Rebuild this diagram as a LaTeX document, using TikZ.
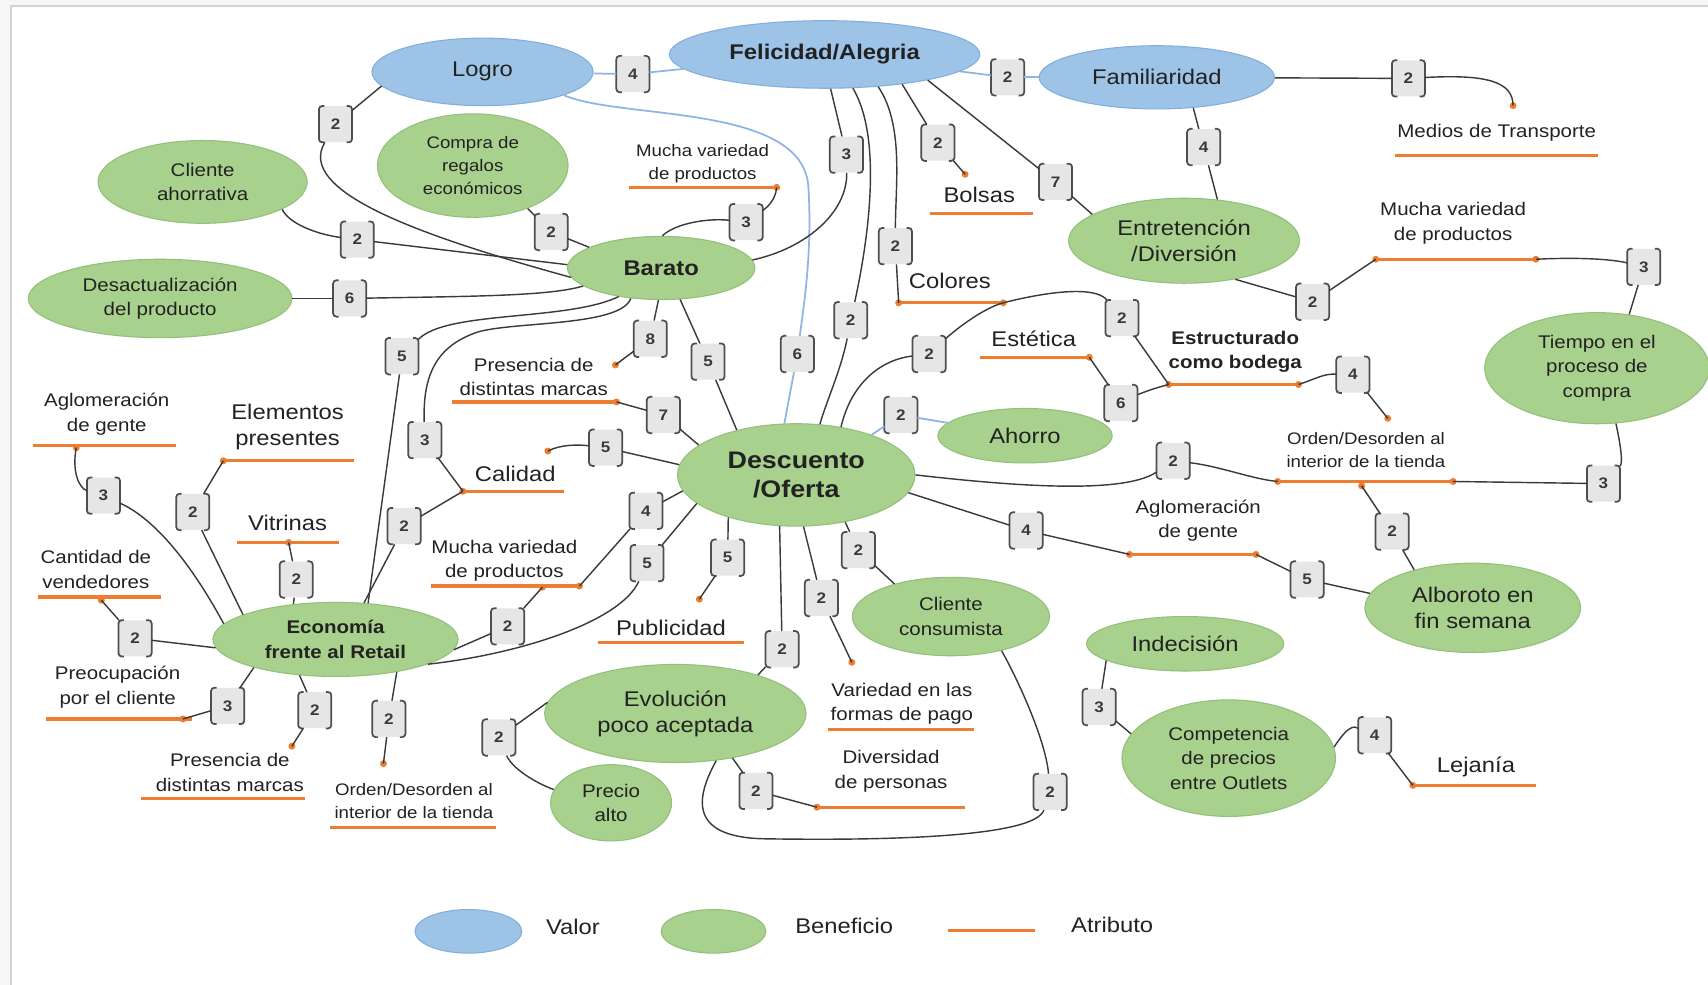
\documentclass[tikz,border=0pt]{standalone}
\usepackage{fontspec}
\setmainfont{Liberation Sans}[FakeStretch=1.12]
\usetikzlibrary{shapes.geometric}

\definecolor{bluefill}{HTML}{9DC3E6}
\definecolor{bluedraw}{HTML}{84AEDD}
\definecolor{greenfill}{HTML}{A9D18E}
\definecolor{greendraw}{HTML}{93C07A}
\definecolor{orangel}{HTML}{ED7D31}
\definecolor{edgec}{HTML}{3A3A3A}
\definecolor{bluel}{HTML}{8DB4E2}
\definecolor{badgec}{HTML}{E6E6E6}
\definecolor{textc}{HTML}{222222}

\newcommand\szBig{\fontsize{19.5}{24}\selectfont}
\newcommand\szMed{\fontsize{16.8}{22.5}\selectfont}
\newcommand\szSml{\fontsize{15.3}{21}\selectfont}
\newcommand\szTop{\fontsize{22}{27}\selectfont}

\tikzset{
  valor/.style={ellipse, draw=bluedraw, fill=bluefill, line width=1, inner sep=0pt,
    align=center, text=textc, font=\szBig},
  benef/.style={ellipse, draw=greendraw, fill=greenfill, line width=1, inner sep=0pt,
    align=center, text=textc, font=\szMed},
  atext/.style={inner sep=0pt, align=center, text=textc, font=\szMed},
  attrline/.style={draw=orangel, line width=3},
  attrdot/.style={fill=orangel},
  ed/.style={draw=edgec, line width=1.3},
  bl/.style={draw=bluel, line width=1.6},
  badgebox/.style={rectangle, rounded corners=4, fill=badgec, minimum width=30,
    minimum height=33, inner sep=0pt, text=edgec, font=\bfseries\fontsize{14}{14}\selectfont},
  bracket/.style={draw=edgec!90, line width=1.6, rounded corners=3},
}

% numbered weight box with bracket sides
\newcommand\badge[3]{%
  \node[badgebox] (#1) at (#2) {#3};
  \draw[bracket] ([xshift=5pt]#1.north west) -- (#1.north west) -- (#1.south west) -- ([xshift=5pt]#1.south west);
  \draw[bracket] ([xshift=-5pt]#1.north east) -- (#1.north east) -- (#1.south east) -- ([xshift=-5pt]#1.south east);
}

\begin{document}
\begin{tikzpicture}[x=1pt, y=-1pt]
\useasboundingbox (0,0) rectangle (1568,904);
\fill[white] (0,0) rectangle (1568,904);
% page frame
\fill[gray!7] (0,0) rectangle (1568,5);
\fill[gray!7] (0,0) rectangle (10,904);
\draw[gray!35, line width=1.5] (10,904) -- (10,5.5) -- (1568,5.5);

% ---------- values ----------
\node[valor, minimum width=203, minimum height=62] (logro) at (443,66) {Logro};
\node[valor, minimum width=285, minimum height=62, font=\szBig\bfseries] (feli) at (757,50) {Felicidad/Alegria};
\node[valor, minimum width=216, minimum height=58] (fam) at (1062,71) {Familiaridad};

% ---------- benefits ----------
\node[benef, minimum width=192, minimum height=76] (clah) at (186,167) {Cliente\\ahorrativa};
\node[benef, minimum width=175, minimum height=95, font=\szSml] (compra) at (434,152) {Compra de\\regalos\\económicos};
\node[benef, minimum width=242, minimum height=72] (desact) at (147,274) {Desactualización\\del producto};
\node[benef, minimum width=172, minimum height=58, font=\szBig\bfseries] (barato) at (607,246) {Barato};
\node[benef, minimum width=212, minimum height=78, font=\szBig] (entre) at (1087,221) {Entretención\\/Diversión};
\node[benef, minimum width=206, minimum height=102] (tiempo) at (1466,338) {Tiempo en el\\proceso de\\compra};
\node[benef, minimum width=160, minimum height=50, font=\szBig] (ahorro) at (941,400) {Ahorro};
\node[benef, minimum width=218, minimum height=94, font=\szTop\bfseries] (desc) at (731,436) {Descuento\\/Oferta};
\node[benef, minimum width=225, minimum height=68, font=\szMed\bfseries] (econ) at (308,587) {Economía\\frente al Retail};
\node[benef, minimum width=181, minimum height=72] (clcons) at (873,566) {Cliente\\consumista};
\node[benef, minimum width=198, minimum height=82, font=\szBig] (alboroto) at (1352,558) {Alboroto en\\fin semana};
\node[benef, minimum width=181, minimum height=50, font=\szBig] (indec) at (1088,591) {Indecisión};
\node[benef, minimum width=240, minimum height=90, font=\szBig] (evol) at (620,655) {Evolución\\poco aceptada};
\node[benef, minimum width=111, minimum height=70] (precio) at (561,737) {Precio\\alto};
\node[benef, minimum width=196, minimum height=107] (compet) at (1128,696) {Competencia\\de precios\\entre Outlets};

% ---------- attributes ----------
\node[atext, font=\szSml] (t1) at (645,150) {Mucha variedad\\de productos};
\coordinate (a1l) at (577,172); \coordinate (a1r) at (713,172);
\node[atext] (t2) at (1374,122) {Medios de Transporte};
\coordinate (a2l) at (1281,143); \coordinate (a2r) at (1467,143); \coordinate (d2) at (1389,97);
\node[atext, font=\szBig] (t3) at (899,179) {Bolsas};
\coordinate (a3l) at (854,196); \coordinate (a3r) at (948,196); \coordinate (d3) at (886,160);
\node[atext, font=\szBig] (t4) at (872,258) {Colores};
\coordinate (a4l) at (825,278); \coordinate (a4r) at (921,278);
\node[atext] (t5) at (1334,205) {Mucha variedad\\de productos};
\coordinate (a5l) at (1263,238); \coordinate (a5r) at (1410,238);
\node[atext, font=\szBig] (t6) at (949,311) {Estética};
\coordinate (a6l) at (900,328); \coordinate (a6r) at (1000,328);
\node[atext, font=\szMed\bfseries] (t7) at (1134,323) {Estructurado\\como bodega};
\coordinate (a7l) at (1073,353); \coordinate (a7r) at (1192,353);
\node[atext] (t8) at (490,346) {Presencia de\\distintas marcas};
\coordinate (a8l) at (415,369); \coordinate (a8r) at (566,369); \coordinate (d8) at (565,335);
\node[atext] (t9) at (98,380) {Aglomeración\\de gente};
\coordinate (a9l) at (30,409); \coordinate (a9r) at (162,409); \coordinate (d9) at (70,411);
\node[atext, font=\szBig] (t10) at (264,392) {Elementos\\presentes};
\coordinate (a10l) at (205,423); \coordinate (a10r) at (325,423);
\node[atext, font=\szBig] (t11) at (473,435) {Calidad};
\coordinate (a11l) at (425,451); \coordinate (a11r) at (518,451); \coordinate (d11) at (503,414);
\node[atext, font=\szSml] (t12) at (1254,413) {Orden/Desorden al\\interior de la tienda};
\coordinate (a12l) at (1173,442); \coordinate (a12r) at (1334,442);
\coordinate (d12m) at (1250,446); \coordinate (d12t) at (1274,384);
\node[atext, font=\szBig] (t13) at (264,480) {Vitrinas};
\coordinate (a13l) at (218,498); \coordinate (a13r) at (311,498); \coordinate (d13) at (265,498);
\node[atext] (t14) at (88,523) {Cantidad de\\vendedores};
\coordinate (a14l) at (35,548); \coordinate (a14r) at (148,548); \coordinate (d14) at (93,551);
\node[atext] (t15) at (463,515) {Mucha variedad\\de productos};
\coordinate (a15l) at (396,538); \coordinate (a15r) at (532,538); \coordinate (d15) at (498,539);
\node[atext] (t16) at (1100,478) {Aglomeración\\de gente};
\coordinate (a16l) at (1037,509); \coordinate (a16r) at (1153,509);
\node[atext, font=\szBig] (t17) at (616,576) {Publicidad};
\coordinate (a17l) at (549,590); \coordinate (a17r) at (683,590); \coordinate (d17) at (642,550);
\node[atext] (t18) at (108,631) {Preocupación\\por el cliente};
\coordinate (a18l) at (42,660); \coordinate (a18r) at (176,660); \coordinate (d18) at (168,660);
\node[atext] (t19) at (828,646) {Variedad en las\\formas de pago};
\coordinate (a19l) at (760,670); \coordinate (a19r) at (894,670); \coordinate (d19) at (782,608);
\node[atext] (t20) at (211,709) {Presencia de\\distintas marcas};
\coordinate (a20l) at (129,733); \coordinate (a20r) at (280,733); \coordinate (d20) at (268,685);
\node[atext, font=\szSml] (t21) at (380,735) {Orden/Desorden al\\interior de la tienda};
\coordinate (a21l) at (303,760); \coordinate (a21r) at (455,760); \coordinate (d21) at (352,701);
\node[atext] (t22) at (818,708) {Diversidad\\de personas};
\coordinate (a22l) at (750,741); \coordinate (a22r) at (886,741); \coordinate (d22) at (750,741);
\node[atext, font=\szBig] (t23) at (1355,704) {Lejanía};
\coordinate (a23l) at (1297,721); \coordinate (a23r) at (1410,721);

\foreach \i in {1,...,23} {\draw[attrline] (a\i l) -- (a\i r);}
\foreach \p in {a1r,d2,d3,a4l,a4r,a5l,a5r,a6r,a7l,a7r,d8,a8r,d9,a10l,a11l,d11,a12l,a12r,d12m,d12t,
  d13,d14,d15,a15r,a16l,a16r,d17,d18,d19,d20,d21,d22,a23l}
  {\fill[attrdot] (\p) circle[radius=3.2pt];}

% ---------- weight boxes ----------
\badge{b1}{581,68}{4}
\badge{b2}{925,71}{2}
\badge{b3}{1293,72}{2}
\badge{b4}{308,114}{2}
\badge{b5}{777,142}{3}
\badge{b6}{861,131}{2}
\badge{b7}{969,167}{7}
\badge{b8}{822,226}{2}
\badge{b9}{781,294}{2}
\badge{b10}{1105,135}{4}
\badge{b11}{1205,277}{2}
\badge{b12}{1509,245}{3}
\badge{b13}{1472,444}{3}
\badge{b14}{1077,423}{2}
\badge{b15}{1278,488}{2}
\badge{b16}{942,487}{4}
\badge{b17}{1200,532}{5}
\badge{b18}{1030,292}{2}
\badge{b19}{853,325}{2}
\badge{b20}{1029,370}{6}
\badge{b21}{1242,344}{4}
\badge{b22}{827,381}{2}
\badge{b23}{328,220}{2}
\badge{b24}{506,213}{2}
\badge{b25}{321,274}{6}
\badge{b26}{685,204}{3}
\badge{b27}{369,327}{5}
\badge{b28}{390,404}{3}
\badge{b29}{597,311}{8}
\badge{b30}{650,332}{5}
\badge{b31}{609,381}{7}
\badge{b32}{556,411}{5}
\badge{b33}{732,325}{6}
\badge{b34}{95,455}{3}
\badge{b35}{177,470}{2}
\badge{b36}{272,532}{2}
\badge{b37}{371,483}{2}
\badge{b38}{124,586}{2}
\badge{b39}{209,648}{3}
\badge{b40}{289,652}{2}
\badge{b41}{357,660}{2}
\badge{b42}{466,575}{2}
\badge{b43}{593,469}{4}
\badge{b44}{594,517}{5}
\badge{b45}{668,512}{5}
\badge{b46}{718,596}{2}
\badge{b47}{754,549}{2}
\badge{b48}{788,505}{2}
\badge{b49}{458,677}{2}
\badge{b50}{694,726}{2}
\badge{b51}{964,727}{2}
\badge{b52}{1009,649}{3}
\badge{b53}{1262,675}{4}

% ---------- links between values ----------
\draw[bl] (logro) -- (b1);
\draw[bl] (b1) -- (feli);
\draw[bl] (feli) -- (b2);
\draw[bl] (b2) -- (fam);
\draw[bl] (logro.-16) .. controls (570,110) and (735,95) .. (742,170) .. controls (746,230) and (738,280) .. (b33);
\draw[bl] (b33) -- (desc.103);
\draw[bl] (desc.28) -- (b22);
\draw[bl] (b22) -- (ahorro);

% ---------- links from the upper values ----------
\draw[ed] (fam) -- (b3);
\draw[ed] (b3) .. controls (1365,68) and (1389,75) .. (d2);
\draw[ed] (logro.188) -- (b4);
\draw[ed] (b4) .. controls (272,175) and (380,215) .. (barato.186);
\draw[ed] (feli.-80) -- (b5);
\draw[ed] (b5) .. controls (778,195) and (740,228) .. (barato.5);
\draw[ed] (feli.-21) -- (b6);
\draw[ed] (b6) -- (d3);
\draw[ed] (feli.-14) -- (b7);
\draw[ed] (b7) -- (entre.164);
\draw[ed] (feli.-31) .. controls (830,115) and (822,170) .. (b8);
\draw[ed] (b8) -- (a4l);
\draw[ed] (feli.-50) .. controls (812,130) and (795,230) .. (b9);
\draw[ed] (b9) .. controls (772,340) and (758,370) .. (desc.65);
\draw[ed] (fam.-40) -- (b10);
\draw[ed] (b10) -- (entre.51);

% ---------- right side ----------
\draw[ed] (entre.-37) -- (b11);
\draw[ed] (b11) -- (a5l);
\draw[ed] (a5r) .. controls (1450,236) and (1480,238) .. (b12);
\draw[ed] (b12) -- (tiempo.59);
\draw[ed] (tiempo.-71) .. controls (1488,410) and (1490,425) .. (b13);
\draw[ed] (b13) -- (a12r);
\draw[ed] (desc.east) .. controls (920,445) and (1030,455) .. (b14);
\draw[ed] (b14) .. controls (1120,428) and (1150,440) .. (a12l);
\draw[ed] (d12m) -- (b15);
\draw[ed] (b15) -- (alboroto.147);
\draw[ed] (desc.-9) -- (b16);
\draw[ed] (b16) -- (a16l);
\draw[ed] (a16r) -- (b17);
\draw[ed] (b17) -- (alboroto.172);
\draw[ed] (a4r) .. controls (960,268) and (1005,262) .. (b18);
\draw[ed] (b18) -- (a7l);
\draw[ed] (desc.47) .. controls (782,350) and (810,330) .. (b19);
\draw[ed] (b19) .. controls (880,300) and (905,282) .. (a4r);
\draw[ed] (a6r) -- (b20);
\draw[ed] (b20) .. controls (1045,362) and (1060,356) .. (a7l);
\draw[ed] (a7r) .. controls (1210,347) and (1215,343) .. (b21);
\draw[ed] (b21) -- (d12t);

% ---------- around Barato ----------
\draw[ed] (clah.-19) .. controls (265,205) and (290,215) .. (b23);
\draw[ed] (b23) -- (barato.178);
\draw[ed] (compra.-38) -- (b24);
\draw[ed] (b24) -- (barato.164);
\draw[ed] (desact) -- (b25);
\draw[ed] (b25) .. controls (430,272) and (505,272) .. (barato.193);
\draw[ed] (barato.88) .. controls (620,205) and (650,200) .. (b26);
\draw[ed] (b26) .. controls (702,192) and (712,185) .. (a1r);
\draw[ed] (barato.214) .. controls (520,295) and (410,285) .. (b27);
\draw[ed] (b27) -- (econ.48);
\draw[ed] (barato.225) .. controls (570,300) and (470,295) .. (438,305) .. controls (400,318) and (388,345) .. (b28);
\draw[ed] (b28) -- (a11l);
\draw[ed] (barato.265) -- (b29);
\draw[ed] (b29) -- (d8);
\draw[ed] (barato.-59) -- (b30);
\draw[ed] (b30) -- (desc.143);
\draw[ed] (a8r) -- (b31);
\draw[ed] (b31) -- (desc.163);
\draw[ed] (d11) .. controls (515,408) and (530,408) .. (b32);
\draw[ed] (b32) -- (desc.175);

% ---------- around Economía ----------
\draw[ed] (d9) .. controls (66,432) and (72,448) .. (b34);
\draw[ed] (b34) .. controls (150,480) and (185,535) .. (econ.172);
\draw[ed] (a10l) -- (b35);
\draw[ed] (b35) -- (econ.165);
\draw[ed] (d13) -- (b36);
\draw[ed] (b36) -- (econ.140);
\draw[ed] (a11l) -- (b37);
\draw[ed] (b37) -- (econ.52);
\draw[ed] (d14) -- (b38);
\draw[ed] (b38) -- (econ.184);
\draw[ed] (econ.199) -- (b39);
\draw[ed] (b39) -- (d18);
\draw[ed] (econ.225) -- (b40);
\draw[ed] (b40) -- (d20);
\draw[ed] (econ.-28) -- (b41);
\draw[ed] (b41) -- (d21);
\draw[ed] (econ.-5) -- (b42);
\draw[ed] (b42) -- (d15);
\draw[ed] (a15r) -- (b43);
\draw[ed] (b43) -- (desc.188);
\draw[ed] (econ.-15) .. controls (480,600) and (570,570) .. (b44);
\draw[ed] (b44) -- (desc.196);

% ---------- below Descuento ----------
\draw[ed] (desc.212) -- (b45);
\draw[ed] (b45) -- (d17);
\draw[ed] (desc.252) -- (b46);
\draw[ed] (b46) -- (evol.25);
\draw[ed] (desc.-82) -- (b47);
\draw[ed] (b47) -- (d19);
\draw[ed] (desc.-44) -- (b48);
\draw[ed] (b48) -- (clcons.150);
\draw[ed] (evol.175) -- (b49);
\draw[ed] (b49) .. controls (470,705) and (490,718) .. (precio.167);
\draw[ed] (evol.-38) -- (b50);
\draw[ed] (b50) -- (d22);
\draw[ed] (evol.-49) .. controls (640,730) and (630,768) .. (700,770) .. controls (820,772) and (950,768) .. (b51);
\draw[ed] (b51) .. controls (960,680) and (935,625) .. (clcons.-34);
\draw[ed] (indec.192) -- (b52);
\draw[ed] (b52) -- (compet.166);
\draw[ed] (compet.6) .. controls (1240,662) and (1245,668) .. (b53);
\draw[ed] (b53) -- (a23l);

% ---------- legend ----------
\node[valor, minimum width=98, minimum height=40] (lv) at (430,855) {};
\node[atext, font=\szBig] (lvt) at (526,851) {Valor};
\node[benef, minimum width=96, minimum height=40] (lb) at (655,855) {};
\node[atext, font=\szBig] (lbt) at (775,850) {Beneficio};
\coordinate (la1) at (870,854); \coordinate (la2) at (950,854);
\draw[attrline] (la1) -- (la2);
\node[atext, font=\szBig] (lat) at (1021,849) {Atributo};
\end{tikzpicture}
\end{document}
